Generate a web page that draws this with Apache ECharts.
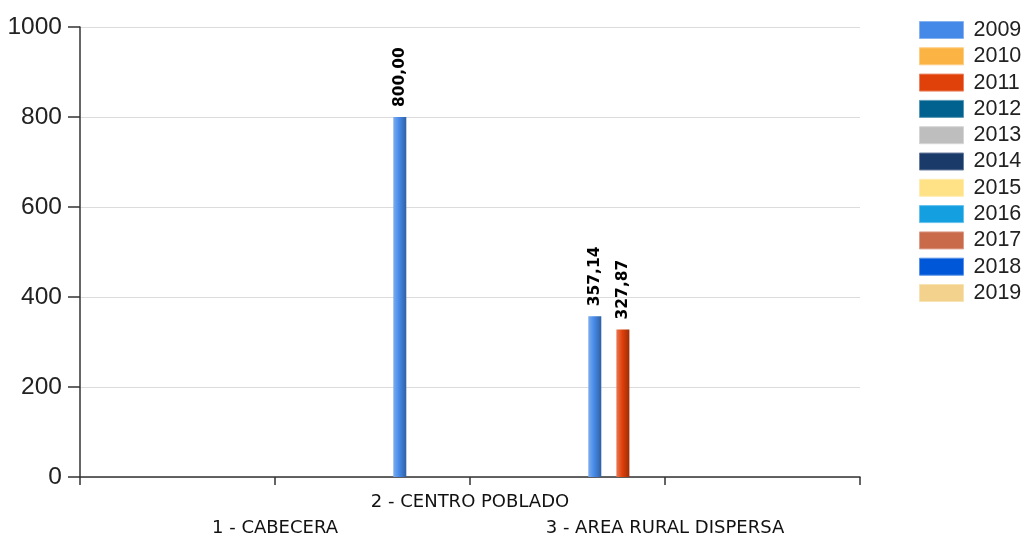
<!DOCTYPE html>
<html>
<head>
<meta charset="utf-8">
<script src="https://cdn.jsdelivr.net/npm/echarts@6/dist/echarts.min.js"></script>
<style>
html,body{margin:0;padding:0;background:#fff;}
#chart{width:1025px;height:536px;}
</style>
</head>
<body>
<div id="chart"></div>
<script>
// Category axis (empty end points so ticks sit on the axis ends)
const categories = ['', '1 - CABECERA', '2 - CENTRO POBLADO', '3 - AREA RURAL DISPERSA', ''];
const years = ['2009','2010','2011','2012','2013','2014','2015','2016','2017','2018','2019'];
// values per year for: CABECERA, CENTRO POBLADO, AREA RURAL DISPERSA
const v2009 = [null, 800.00, 357.14];
const v2010 = [null, null, null];
const v2011 = [null, null, 327.87];
const v2012 = [null, null, null];
const v2013 = [null, null, null];
const v2014 = [null, null, null];
const v2015 = [null, null, null];
const v2016 = [null, null, null];
const v2017 = [null, null, null];
const v2018 = [null, null, null];
const v2019 = [null, null, null];
const yTicks = [0, 200, 400, 600, 800, 1000];

const values = [v2009, v2010, v2011, v2012, v2013, v2014, v2015, v2016, v2017, v2018, v2019];
const colors = ['#4589E8','#FBB443','#E0400A','#01628F','#BEBEBE','#1A3A6A','#FFE285','#139FE0','#C96A4B','#0058D8','#F2D28C'];

function shade(hex, f) {
  const n = parseInt(hex.slice(1), 16);
  let r = (n >> 16) & 255, g = (n >> 8) & 255, b = n & 255;
  if (f >= 0) { r += (255 - r) * f; g += (255 - g) * f; b += (255 - b) * f; }
  else { r *= (1 + f); g *= (1 + f); b *= (1 + f); }
  return 'rgb(' + Math.round(r) + ',' + Math.round(g) + ',' + Math.round(b) + ')';
}

const series = years.map((y, i) => ({
  name: y,
  type: 'bar',
  barWidth: 13,
  barGap: '8%',
  data: [null].concat(values[i]).concat([null]),
  itemStyle: {
    color: new echarts.graphic.LinearGradient(0, 0, 1, 0, [
      {offset: 0, color: shade(colors[i], 0.3)},
      {offset: 0.45, color: colors[i]},
      {offset: 1, color: shade(colors[i], -0.3)}
    ])
  },
  label: {
    show: true,
    position: 'top',
    rotate: 90,
    align: 'left',
    verticalAlign: 'middle',
    distance: 10,
    fontFamily: 'DejaVu Sans',
    fontWeight: 'bold',
    fontSize: 15.5,
    color: '#000',
    formatter: p => p.value == null ? '' : Number(p.value).toFixed(2).replace('.', ',')
  }
}));

const chart = echarts.init(document.getElementById('chart'), null, {renderer: 'canvas'});
chart.setOption({
  animation: false,
  backgroundColor: '#fff',
  grid: {left: 80, right: 165, top: 27, bottom: 59, containLabel: false, outerBoundsMode: 'none'},
  legend: {
    orient: 'vertical',
    left: 919,
    top: 19,
    padding: 0,
    itemWidth: 44,
    itemHeight: 17,
    itemGap: 4.3,
    icon: 'rect',
    textStyle: {fontFamily: 'Liberation Sans', fontSize: 21.5, color: '#222', padding: [0, 0, 0, 5]},
    data: years.map((y, i) => ({name: y, itemStyle: {color: colors[i], borderColor: shade(colors[i], 0.35), borderWidth: 1}}))
  },
  xAxis: {
    type: 'category',
    data: categories,
    boundaryGap: false,
    axisLine: {lineStyle: {color: '#333', width: 1.5}},
    axisTick: {show: true, length: 8, lineStyle: {color: '#333', width: 1.5}},
    axisLabel: {
      interval: 0,
      margin: 12,
      fontFamily: 'DejaVu Sans',
      fontSize: 18,
      color: '#111',
      lineHeight: 26,
      formatter: (v, i) => (i % 2 === 1 ? '\n' + v : v)
    },
    splitLine: {show: false}
  },
  yAxis: {
    type: 'value',
    min: yTicks[0],
    max: yTicks[yTicks.length - 1],
    interval: 200,
    axisLine: {show: true, lineStyle: {color: '#333', width: 1.5}},
    axisTick: {show: true, length: 12, lineStyle: {color: '#333', width: 1.5}},
    axisLabel: {fontFamily: 'Liberation Sans', fontSize: 24.5, color: '#222', margin: 18, formatter: v => String(v)},
    splitLine: {lineStyle: {color: '#dcdcdc', width: 1}}
  },
  series: series
});
</script>
</body>
</html>
